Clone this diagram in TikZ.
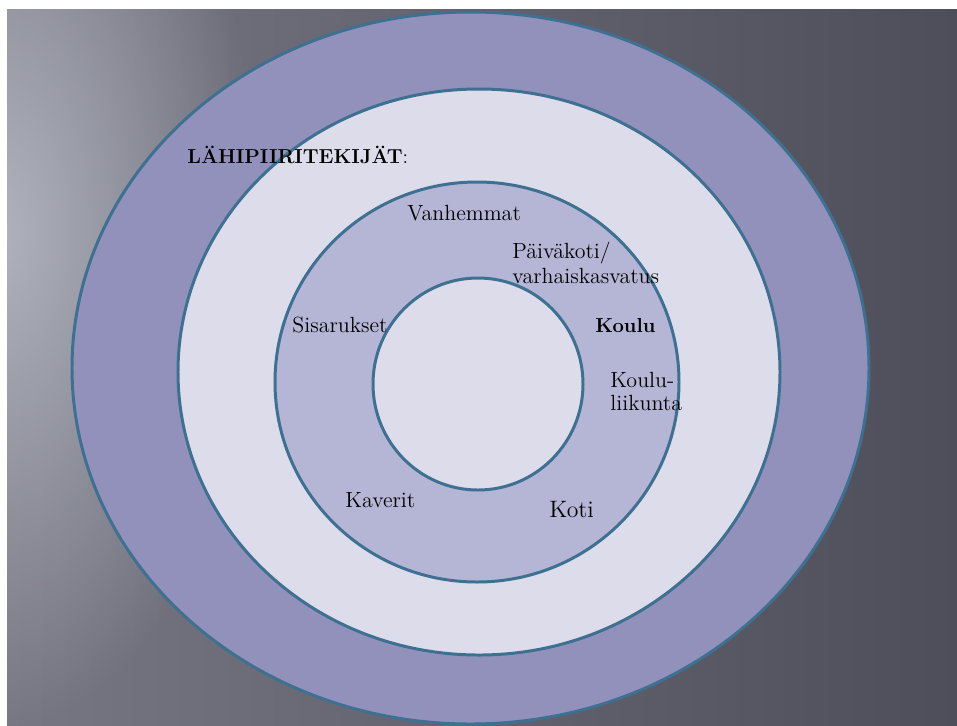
\documentclass[tikz,border=0pt]{standalone}
\usepackage{xcolor}
\usepackage{tikz}
\usetikzlibrary{positioning, fadings}

\definecolor{bgleft}{RGB}{118,119,131}
\definecolor{bgright}{RGB}{77,78,89}
\definecolor{bgglow}{RGB}{176,178,190}
\definecolor{ringline}{RGB}{62,112,145}
\definecolor{ringouter}{RGB}{145,145,187}
\definecolor{ringlight}{RGB}{220,220,234}
\definecolor{ringmid}{RGB}{181,181,213}

\tikzfading[name=glowfade, inner color=transparent!0, outer color=transparent!100]

\tikzset{
    ring/.style={draw=ringline, line width=1.7pt},
    txt/.style={inner sep=0pt, anchor=base west, font=\fontsize{12.5}{15}\selectfont},
    txtbold/.style={txt, font=\fontsize{11.5}{14}\selectfont\bfseries}
}

\begin{document}
\begin{tikzpicture}[x=0.02cm, y=-0.02cm]
    % 1. Tausta
    \useasboundingbox (0,0) rectangle (957,725);
    \fill[white] (0,0) rectangle (957,725);
    \begin{scope}
        \clip (7,9) rectangle (957,725);
        \shade[left color=bgleft, right color=bgright] (7,9) rectangle (957,725);
        \fill[bgglow, path fading=glowfade] (0,230) ellipse [x radius=260, y radius=500];
    \end{scope}

    % 2. Kehät ulkoa sisään
    \filldraw[ring, fill=ringouter] (470.5,368) ellipse [x radius=398.5, y radius=356];
    \filldraw[ring, fill=ringlight] (479,372) ellipse [x radius=301, y radius=283];
    \filldraw[ring, fill=ringmid] (477,382) ellipse [x radius=202, y radius=200];
    \filldraw[ring, fill=ringlight] (478,384) ellipse [x radius=105, y radius=106];

    % 3. Otsikko
    \node[txt, font=\fontsize{11.5}{14}\selectfont] (otsikko) at (187,163) {\textbf{LÄHIPIIRITEKIJÄT}:};

    % 4. Tekijät keskimmäisellä kehällä
    \node[txt] (vanhemmat) at (407,220) {Vanhemmat};
    \node[txt] (paivakoti) at (512,258) {Päiväkoti/};
    \node[txt] (varhais) at (512,283) {varhaiskasvatus};
    \node[txtbold] (koulu) at (595,332) {Koulu};
    \node[txt] (sisarukset) at (292,332) {Sisarukset};
    \node[txt] (kouluA) at (610,387) {Koulu-};
    \node[txt] (kouluB) at (610,410) {liikunta};
    \node[txt] (kaverit) at (345,507) {Kaverit};
    \node[txt, font=\fontsize{13.5}{16}\selectfont] (koti) at (549,517) {Koti};

\end{tikzpicture}
\end{document}
